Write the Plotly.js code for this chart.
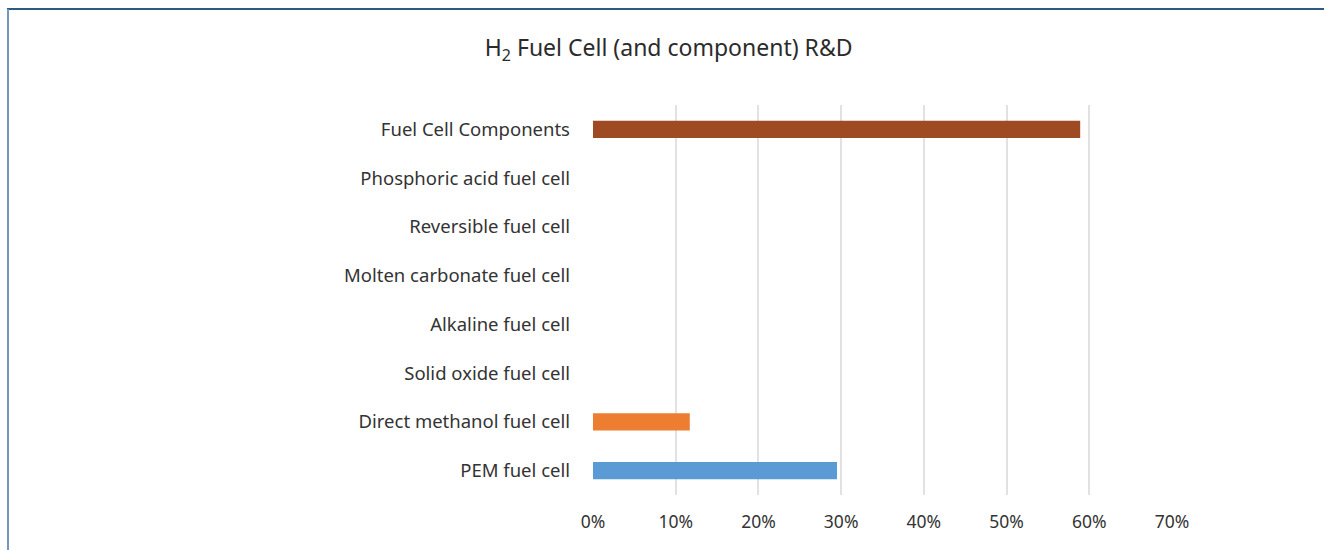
<!DOCTYPE html>
<html>
<head>
<meta charset="utf-8">
<script src="https://cdn.plot.ly/plotly-3.0.1.min.js"></script>
<style>
  html, body { margin: 0; padding: 0; background: #fff; }
  #wrap { position: relative; width: 1324px; height: 550px; overflow: hidden; }
  #chart { position: absolute; left: 0; top: 0; width: 1324px; height: 550px; }
  #frameTop { position: absolute; left: 7px; top: 8px; width: 1317px; height: 0; border-top: 2px solid #2b5b82; pointer-events: none; }
  #frameLeft { position: absolute; left: 7px; top: 9px; width: 0; height: 541px; border-left: 2px solid #7498b5; pointer-events: none; }
</style>
</head>
<body>
<div id="wrap">
  <div id="chart"></div>
  <div id="frameTop"></div>
  <div id="frameLeft"></div>
</div>
<script>
const categories = [
  "PEM fuel cell",
  "Direct methanol fuel cell",
  "Solid oxide fuel cell",
  "Alkaline fuel cell",
  "Molten carbonate fuel cell",
  "Reversible fuel cell",
  "Phosphoric acid fuel cell",
  "Fuel Cell Components"
];
const shares = [0.295, 0.117, 0, 0, 0, 0, 0, 0.589];
const barColors = ["#5B9BD5", "#ED7D31", "#A5A5A5", "#FFC000", "#4472C4", "#70AD47", "#264478", "#9E4A23"];
const tickVals = [0, 0.1, 0.2, 0.3, 0.4, 0.5, 0.6, 0.7];
const tickText = ["0%", "10%", "20%", "30%", "40%", "50%", "60%", "70%"];

const fontFam = "'Noto Sans', 'Open Sans', sans-serif";

Plotly.newPlot("chart", [{
  type: "bar",
  orientation: "h",
  y: categories,
  x: shares,
  marker: { color: barColors, line: { width: 0 } },
  hoverinfo: "x+y"
}], {
  width: 1324,
  height: 550,
  margin: { l: 593, r: 152, t: 105, b: 55, pad: 0 },
  paper_bgcolor: "#ffffff",
  plot_bgcolor: "#ffffff",
  bargap: 0.65,
  showlegend: false,
  title: {
    text: "H<sub>2</sub> Fuel Cell (and component) R&amp;D",
    font: { family: fontFam, size: 23, color: "#2b2b2b" },
    x: 0.505, xanchor: "center",
    y: 0.913, yanchor: "middle"
  },
  xaxis: {
    range: [0, 0.7],
    tickvals: tickVals,
    ticktext: tickText,
    showgrid: true,
    gridcolor: "#e2e2e2",
    gridwidth: 2,
    zeroline: false,
    showline: false,
    ticks: "",
    ticklabelstandoff: 14,
    tickfont: { family: fontFam, size: 17.5, color: "#333333" },
    fixedrange: true
  },
  yaxis: {
    type: "category",
    categoryorder: "array",
    categoryarray: categories,
    showgrid: false,
    zeroline: false,
    showline: false,
    ticks: "",
    ticklabelstandoff: 22,
    tickfont: { family: fontFam, size: 18.5, color: "#333333" },
    fixedrange: true
  }
}, { displayModeBar: false, staticPlot: true });
</script>
</body>
</html>
